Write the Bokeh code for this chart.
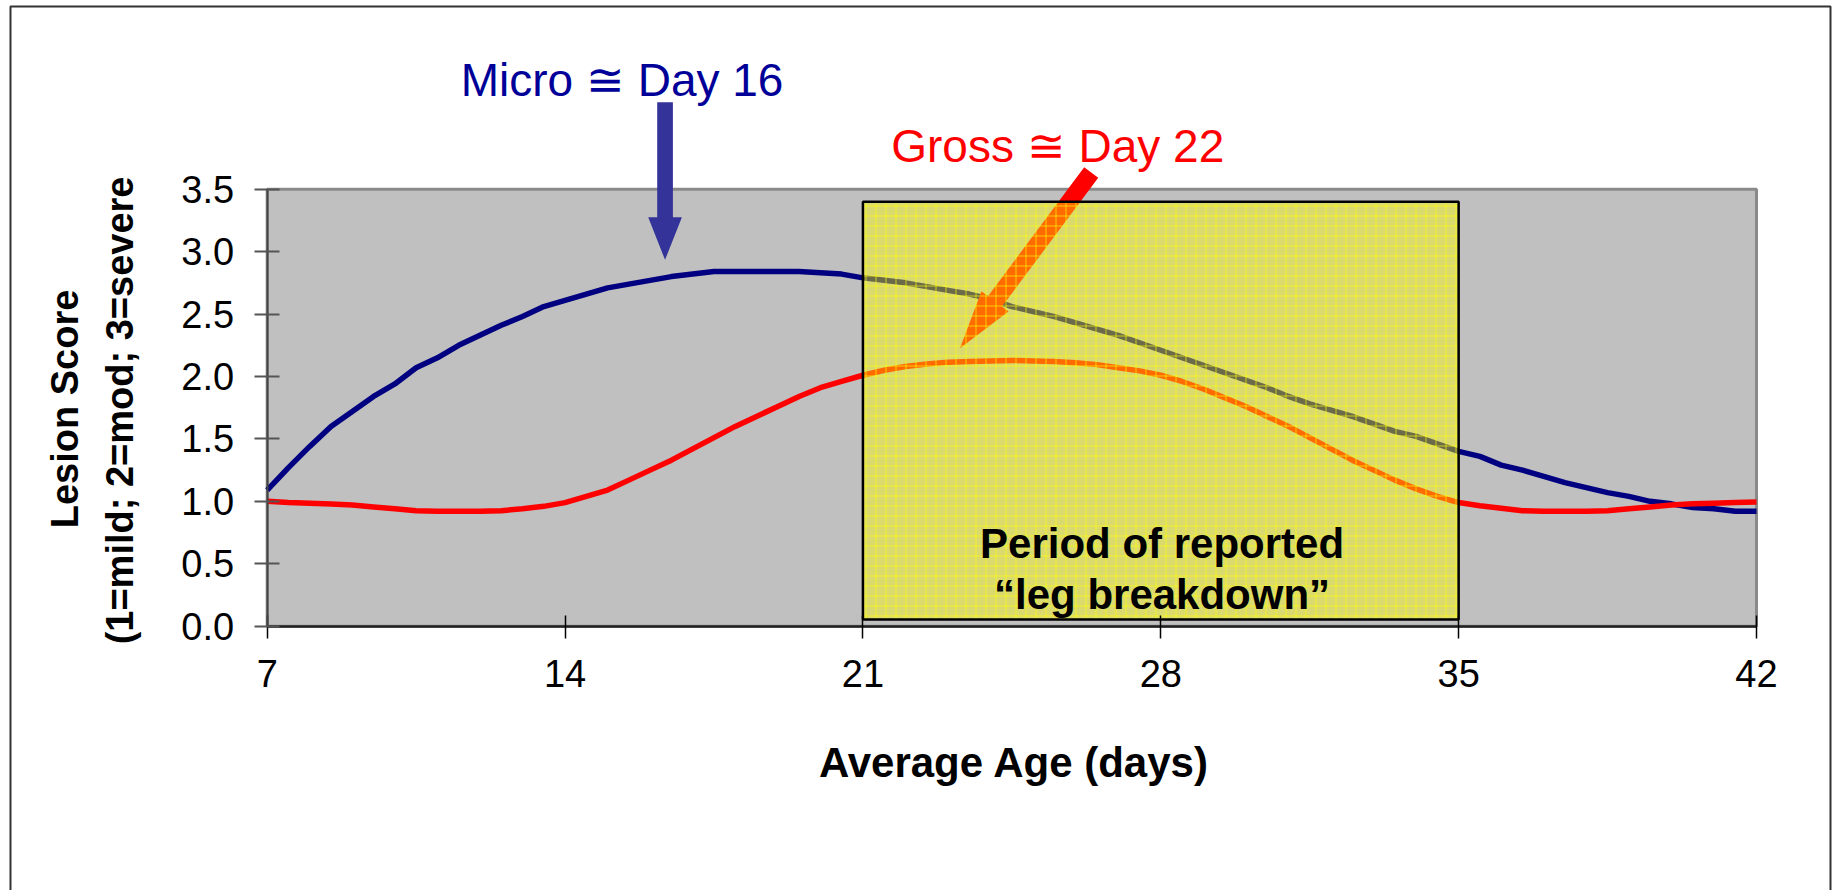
import math
from bokeh.plotting import figure
from bokeh.models import (Range1d, FixedTicker, PrintfTickFormatter, Label,
                          LinearAxis)
from bokeh.embed import file_html
from bokeh.resources import INLINE

# ---------------- data ----------------
days = [7.0, 7.5, 8.0, 8.5, 9.0, 9.5, 10.0, 10.5, 11.0, 11.5, 12.0, 12.5,
        13.0, 13.5, 14.0, 14.5, 15.0, 15.5, 16.0, 16.5, 17.0, 17.5, 18.0,
        18.5, 19.0, 19.5, 20.0, 20.5, 21.0, 21.5, 22.0, 22.5, 23.0, 23.5,
        24.0, 24.5, 25.0, 25.5, 26.0, 26.5, 27.0, 27.5, 28.0, 28.5, 29.0,
        29.5, 30.0, 30.5, 31.0, 31.5, 32.0, 32.5, 33.0, 33.5, 34.0, 34.5,
        35.0, 35.5, 36.0, 36.5, 37.0, 37.5, 38.0, 38.5, 39.0, 39.5, 40.0,
        40.5, 41.0, 41.5, 42.0]

micro = [1.09, 1.27, 1.44, 1.60, 1.72, 1.84, 1.94, 2.07, 2.15, 2.25, 2.33,
         2.41, 2.48, 2.56, 2.61, 2.66, 2.71, 2.74, 2.77, 2.80, 2.82, 2.84,
         2.84, 2.84, 2.84, 2.84, 2.83, 2.82, 2.79, 2.77, 2.75, 2.72, 2.69,
         2.66, 2.62, 2.56, 2.52, 2.48, 2.43, 2.38, 2.33, 2.27, 2.21, 2.15,
         2.09, 2.03, 1.97, 1.91, 1.84, 1.78, 1.73, 1.68, 1.62, 1.56, 1.52,
         1.46, 1.40, 1.36, 1.29, 1.25, 1.20, 1.15, 1.11, 1.07, 1.04, 1.00,
         0.98, 0.95, 0.94, 0.92, 0.92]

gross = [1.00, 0.99, 0.985, 0.978, 0.97, 0.955, 0.94, 0.925, 0.92, 0.92,
         0.92, 0.925, 0.94, 0.96, 0.99, 1.04, 1.09, 1.17, 1.25, 1.33, 1.42,
         1.51, 1.60, 1.68, 1.76, 1.84, 1.91, 1.96, 2.01, 2.05, 2.08, 2.10,
         2.115, 2.12, 2.125, 2.128, 2.125, 2.12, 2.11, 2.095, 2.07, 2.045,
         2.01, 1.96, 1.90, 1.83, 1.76, 1.68, 1.60, 1.51, 1.42, 1.33, 1.25,
         1.17, 1.10, 1.04, 0.99, 0.965, 0.945, 0.925, 0.92, 0.92, 0.92,
         0.925, 0.94, 0.955, 0.97, 0.98, 0.985, 0.99, 0.995]

x_ticks = [7, 14, 21, 28, 35, 42]
y_ticks = [0.0, 0.5, 1.0, 1.5, 2.0, 2.5, 3.0, 3.5]
x_min, x_max = 7, 42
y_min, y_max = 0.0, 3.5

period_start, period_end = 21, 35
period_low, period_high = 0.054, 3.40

micro_label = "Micro \u2245 Day 16"
gross_label = "Gross \u2245 Day 22"
period_lines = ["Period of reported", "\u201cleg breakdown\u201d"]
x_title = "Average Age (days)"
y_title_lines = ["Lesion Score", "(1=mild; 2=mod; 3=severe"]

# arrows: (tail day, tail score, tip day, tip score)
micro_arrow = (16.35, 4.197, 16.35, 2.934)
gross_arrow = (26.365, 3.634, 23.281, 2.226)

# ---------------- figure geometry ----------------
W, H = 1832, 890
PLOT_LEFT, PLOT_RIGHT = 266.7, 1756.0     # px of day 7 / day 42
PLOT_TOP, PLOT_BOTTOM = 188.7, 625.7      # px of 3.5 / 0.0
PXD = (PLOT_RIGHT - PLOT_LEFT) / (x_max - x_min)
PXV = (PLOT_BOTTOM - PLOT_TOP) / (y_max - y_min)
xs0 = x_min - PLOT_LEFT / PXD
ys1 = y_min + PLOT_BOTTOM / PXV

p = figure(frame_width=W, frame_height=H,
           min_border=0, min_border_left=0, min_border_right=0,
           min_border_top=0, min_border_bottom=0,
           x_range=Range1d(xs0, xs0 + W / PXD),
           y_range=Range1d(ys1 - H / PXV, ys1),
           x_axis_location=None, y_axis_location=None,
           output_backend="svg", toolbar_location=None)
p.background_fill_color = "white"
p.border_fill_color = "white"
p.outline_line_color = None
p.xgrid.visible = False
p.ygrid.visible = False

FONT = "Liberation Sans"

# plot area background with grey top/right border
p.quad(left=[x_min], right=[x_max], bottom=[y_min], top=[y_max],
       fill_color="#C0C0C0", line_color="#8A8A8A", line_width=3)

# ---------------- lines ----------------
p.line(days, micro, line_color="#000080", line_width=5.5, line_join="round")
p.line(days, gross, line_color="#FF0000", line_width=5.5, line_join="round")


def arrow_poly(spec, shaft_w, head_w, head_l):
    td, tv, hd, hv = spec
    tx, ty = td * PXD, tv * PXV
    hx, hy = hd * PXD, hv * PXV
    dx, dy = hx - tx, hy - ty
    L = math.hypot(dx, dy)
    ux, uy = dx / L, dy / L
    nx, ny = -uy, ux
    bx, by = hx - ux * head_l, hy - uy * head_l
    s, h = shaft_w / 2, head_w / 2
    pts = [(tx + nx * s, ty + ny * s), (bx + nx * s, by + ny * s),
           (bx + nx * h, by + ny * h), (hx, hy),
           (bx - nx * h, by - ny * h), (bx - nx * s, by - ny * s),
           (tx - nx * s, ty - ny * s)]
    return [q[0] / PXD for q in pts], [q[1] / PXV for q in pts]


ax, ay = arrow_poly(micro_arrow, 15.7, 33.7, 42.6)
p.patch(ax, ay, fill_color="#333399", line_color=None)
ax, ay = arrow_poly(gross_arrow, 17.5, 33.7, 58.5)
p.patch(ax, ay, fill_color="#FF0000", line_color=None)

# translucent period box (on top of the curves and the arrow)
p.quad(left=[period_start], right=[period_end],
       bottom=[period_low], top=[period_high],
       fill_color="#FFFF00", fill_alpha=0.42,
       hatch_pattern="+", hatch_color="#FFFF00",
       hatch_alpha=0.65, hatch_scale=10, hatch_weight=1,
       line_color="black", line_width=2.5)

# outer frame of the chart
p.quad(left=[0.967], right=[43.739], bottom=[-4.0], top=[4.963],
       fill_color=None, line_color="#333333", line_width=2)

# ---------------- axes (library axes at fixed positions) ----------------
xaxis = LinearAxis(fixed_location=y_min, bounds=(x_min, x_max),
                   ticker=FixedTicker(ticks=x_ticks))
xaxis.minor_tick_line_color = None
xaxis.major_tick_in = 11
xaxis.major_tick_out = 12
xaxis.major_tick_line_color = "#000000"
xaxis.major_tick_line_width = 1.5
xaxis.axis_line_color = "#222222"
xaxis.axis_line_width = 2.5
xaxis.major_label_text_font = FONT
xaxis.major_label_text_font_size = "38px"
xaxis.major_label_text_color = "black"
xaxis.major_label_standoff = 22
p.add_layout(xaxis, "below")

yaxis = LinearAxis(fixed_location=x_min, bounds=(y_min, y_max),
                   ticker=FixedTicker(ticks=y_ticks),
                   formatter=PrintfTickFormatter(format="%.1f"))
yaxis.minor_tick_line_color = None
yaxis.major_tick_in = 12
yaxis.major_tick_out = 13
yaxis.major_tick_line_color = "#555555"
yaxis.major_tick_line_width = 2
yaxis.axis_line_color = "#444444"
yaxis.axis_line_width = 2
yaxis.major_label_text_font = FONT
yaxis.major_label_text_font_size = "38px"
yaxis.major_label_text_color = "black"
yaxis.major_label_standoff = 20
p.add_layout(yaxis, "left")

# ---------------- texts ----------------
p.add_layout(Label(x=15.34, y=4.376, text=micro_label, text_align="center",
                   text_baseline="alphabetic", text_font=FONT,
                   text_font_size="46px", text_color="#000099"))
p.add_layout(Label(x=25.578, y=3.850, text=gross_label, text_align="center",
                   text_baseline="alphabetic", text_font=FONT,
                   text_font_size="46px", text_color="#FF0000"))
for txt, yv in zip(period_lines, [0.662, 0.254]):
    p.add_layout(Label(x=28.03, y=yv, text=txt, text_align="center",
                       text_baseline="alphabetic", text_font=FONT,
                       text_font_style="bold", text_font_size="42px",
                       text_color="black"))
p.add_layout(Label(x=24.555, y=-1.089, text=x_title, text_align="center",
                   text_baseline="alphabetic", text_font=FONT,
                   text_font_style="bold", text_font_size="42px",
                   text_color="black"))
for txt, xd, yv in zip(y_title_lines, [2.259, 3.540], [1.740, 1.728]):
    p.add_layout(Label(x=xd, y=yv, text=txt, angle=math.pi / 2,
                       text_align="center", text_baseline="alphabetic",
                       text_font=FONT, text_font_style="bold",
                       text_font_size="38px", text_color="black"))

open("out.html", "w").write(file_html(p, INLINE))
